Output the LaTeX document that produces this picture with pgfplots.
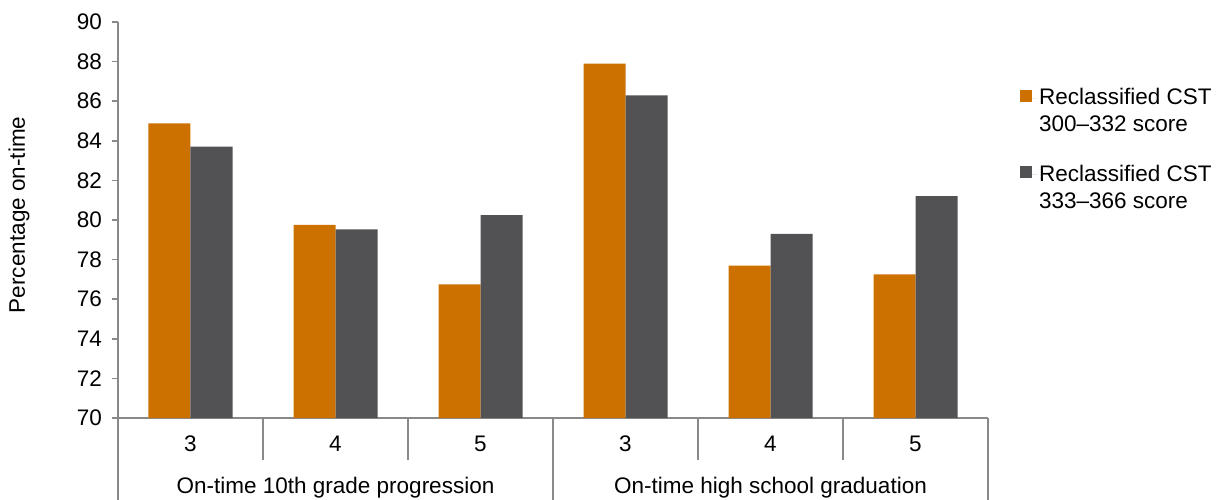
\documentclass[border=0pt]{standalone}
\usepackage{fontspec}
\setmainfont{Liberation Sans}
\usepackage{pgfplots}
\pgfplotsset{compat=1.18}
\definecolor{barorange}{RGB}{204,112,0}
\definecolor{bargrey}{RGB}{82,82,84}
\definecolor{axisgrey}{RGB}{137,137,137}
\begin{document}
\fontsize{22.5bp}{27bp}\selectfont
\begin{tikzpicture}
\useasboundingbox (-118bp,-82bp) rectangle (1099bp,418bp);
\begin{axis}[
  at={(0,0)}, anchor=south west,
  scale only axis, width=870bp, height=396bp,
  xmin=-0.5, xmax=5.5, ymin=70, ymax=90,
  ytick={70,72,...,90},
  xtick={0,...,5}, xticklabels={3,4,5,3,4,5},
  ybar=0pt, bar width=42bp,
  axis x line*=bottom, axis y line*=left,
  axis line style={axisgrey, line width=1.5bp},
  tick align=outside,
  ytick style={axisgrey, line width=1.5bp},
  major tick length=6bp,
  xtick style={draw=none},
  /pgf/number format/assume math mode=true,
  tick label style={font=\fontsize{22.5bp}{27bp}\selectfont},
  yticklabel style={anchor=east, inner sep=0pt, xshift=-10bp},
  xticklabel style={anchor=base, inner sep=0pt, yshift=-27bp},
  every axis y label/.style={at={(axis description cs:0,0.513)}, xshift=-99bp, rotate=90, anchor=center},
  ylabel={Percentage on-time},
  clip=false,
  legend style={at={(rel axis cs:1,1)}, anchor=north west, xshift=29bp, yshift=-62bp,
    draw=none, fill=none, row sep=53bp, font=\fontsize{22.5bp}{27bp}\selectfont,
    cells={anchor=west}},
  legend image code/.code={\path (0bp,0bp) -- (17bp,0bp); \fill[#1] (0bp,-3.5bp) rectangle (12bp,8.5bp);},
]
% orange: reclassified with CST 300-332, grey: 333-366
\addplot[fill=barorange, draw=none] coordinates {(0,84.88) (1,79.75) (2,76.75) (3,87.9) (4,77.7) (5,77.25)};
\addplot[fill=bargrey, draw=none] coordinates {(0,83.7) (1,79.53) (2,80.25) (3,86.3) (4,79.3) (5,81.2)};
\legend{\parbox[t]{180bp}{Reclassified CST\\300–332 score}, \parbox[t]{180bp}{Reclassified CST\\333–366 score}}
% category separators below the axis
\draw[axisgrey, line width=1.5bp] (axis cs:0.5,70) -- ++(0bp,-42bp);
\draw[axisgrey, line width=1.5bp] (axis cs:1.5,70) -- ++(0bp,-42bp);
\draw[axisgrey, line width=1.5bp] (axis cs:3.5,70) -- ++(0bp,-42bp);
\draw[axisgrey, line width=1.5bp] (axis cs:4.5,70) -- ++(0bp,-42bp);
\draw[axisgrey, line width=1.5bp] (axis cs:-0.5,70) -- ++(0bp,-82bp);
\draw[axisgrey, line width=1.5bp] (axis cs:2.5,70) -- ++(0bp,-82bp);
\draw[axisgrey, line width=1.5bp] (axis cs:5.5,70) -- ++(0bp,-82bp);
\node[anchor=base] at (axis cs:1,70) [yshift=-75bp] {On-time 10th grade progression};
\node[anchor=base] at (axis cs:4,70) [yshift=-75bp] {On-time high school graduation};
\end{axis}
\end{tikzpicture}
\end{document}
